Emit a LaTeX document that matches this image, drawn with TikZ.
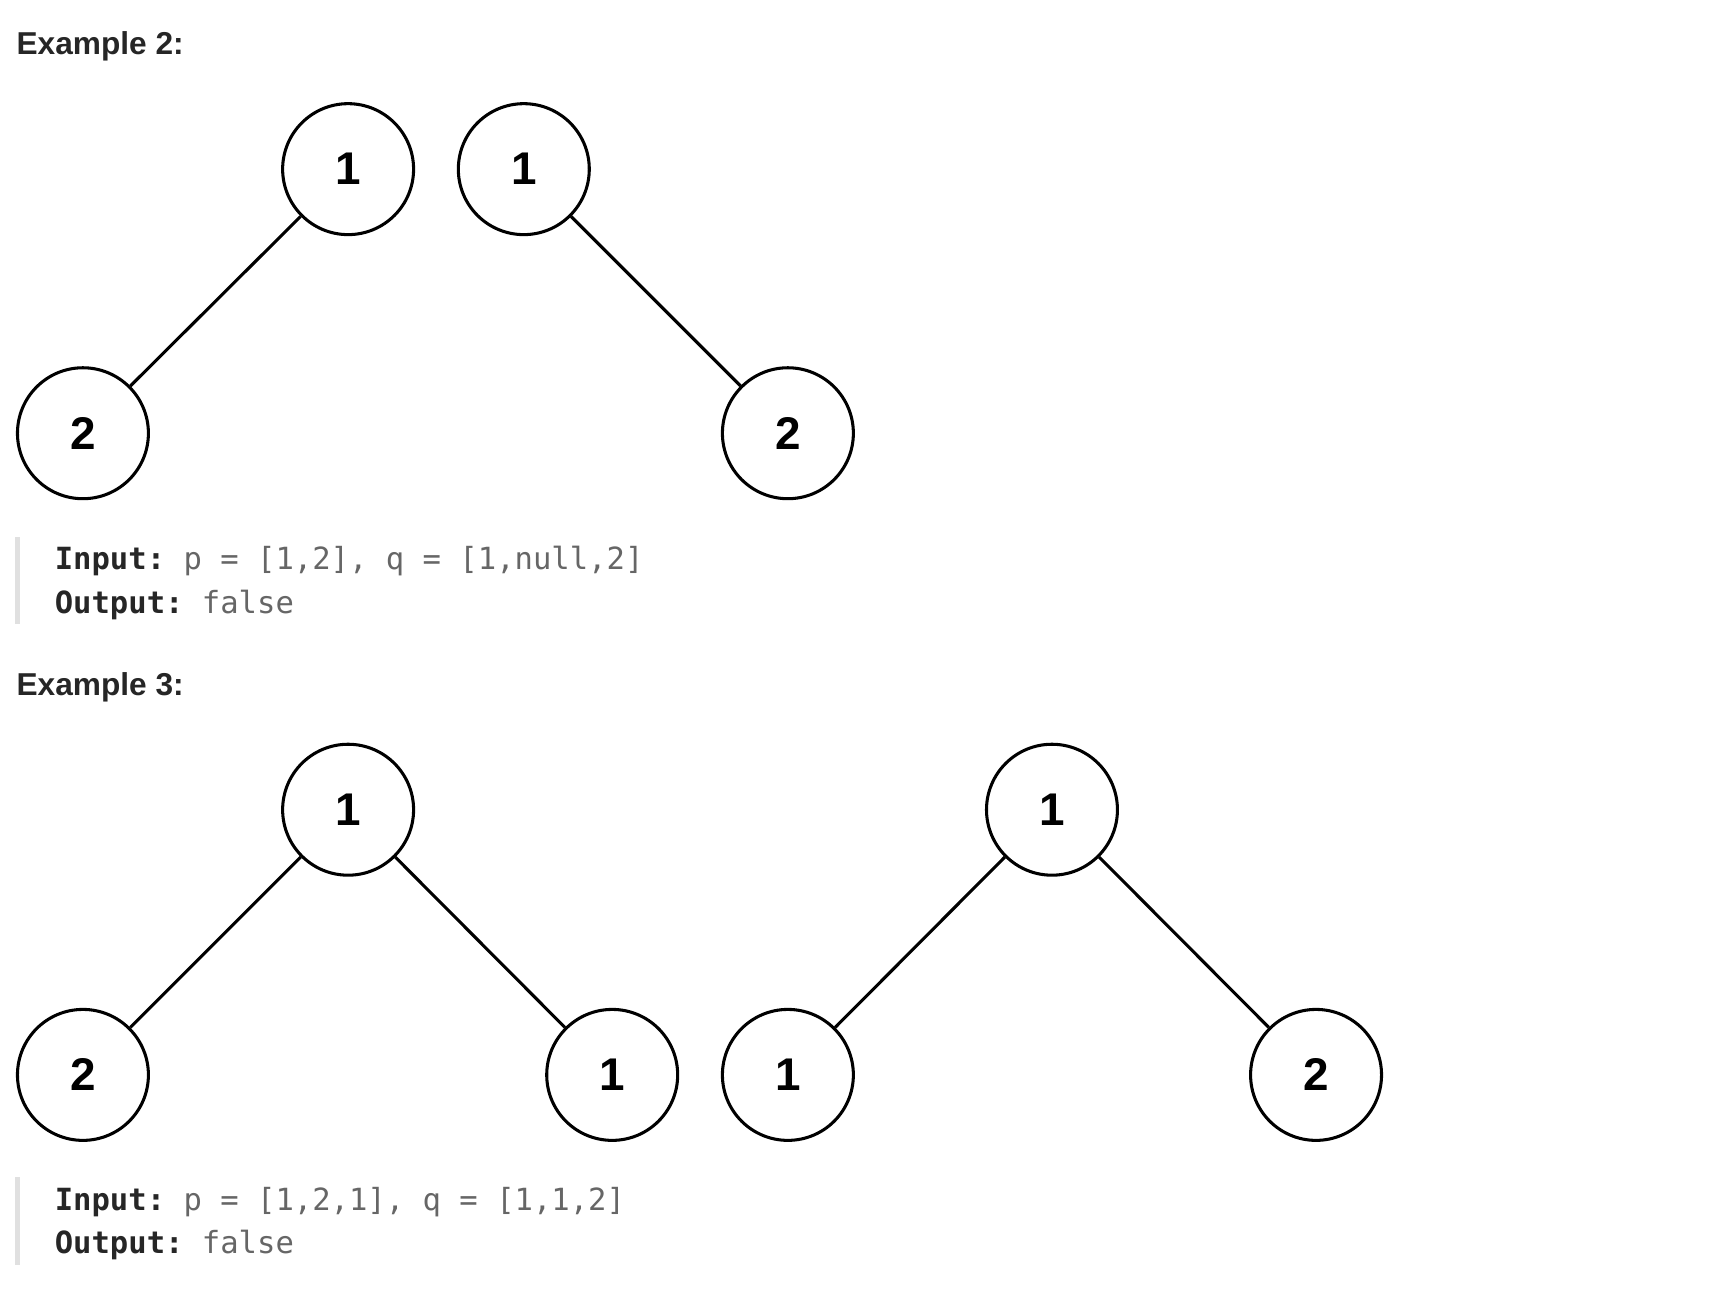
\documentclass[tikz,border=0pt]{standalone}
\usepackage{fontspec}
\setmainfont{Liberation Sans}
\setmonofont{DejaVu Sans Mono}
\begin{document}
\begin{tikzpicture}[x=1pt,y=-1pt,
  nd/.style={circle,draw,line width=2.8pt,minimum size=120pt,inner sep=0pt,font=\fontsize{42}{42}\selectfont\bfseries},
  ed/.style={line width=2.8pt},
  hd/.style={anchor=base west,inner sep=0pt,font=\fontsize{29}{29}\selectfont\bfseries,text=black!85},
  cd/.style={anchor=base west,inner sep=0pt,font=\fontsize{28}{28}\selectfont\ttfamily,text=black!60}]
\useasboundingbox (0,0) rectangle (1567,1197);
\node[hd] (h2) at (15,50) {Example 2:};
\node[nd] (a1) at (319,155) {1};
\node[nd] (a2) at (76,397) {2};
\node[nd] (b1) at (480,155) {1};
\node[nd] (b2) at (722,397) {2};
\draw[ed] (a1) -- (a2);
\draw[ed] (b1) -- (b2);
\fill[black!12] (14,492) rectangle (18,572);
\node[cd] (i2) at (50,522) {\textcolor{black!85}{\bfseries Input:} p = [1,2], q = [1,null,2]};
\node[cd] (o2) at (50,562) {\textcolor{black!85}{\bfseries Output:} false};
\node[hd] (h3) at (15,637) {Example 3:};
\node[nd] (c1) at (319,742) {1};
\node[nd] (c2) at (76,985) {2};
\node[nd] (c3) at (561,985) {1};
\node[nd] (d1) at (964,742) {1};
\node[nd] (d2) at (722,985) {1};
\node[nd] (d3) at (1206,985) {2};
\draw[ed] (c1) -- (c2);
\draw[ed] (c1) -- (c3);
\draw[ed] (d1) -- (d2);
\draw[ed] (d1) -- (d3);
\fill[black!12] (14,1079) rectangle (18,1159);
\node[cd] (i3) at (50,1109) {\textcolor{black!85}{\bfseries Input:} p = [1,2,1], q = [1,1,2]};
\node[cd] (o3) at (50,1149) {\textcolor{black!85}{\bfseries Output:} false};
\end{tikzpicture}
\end{document}
